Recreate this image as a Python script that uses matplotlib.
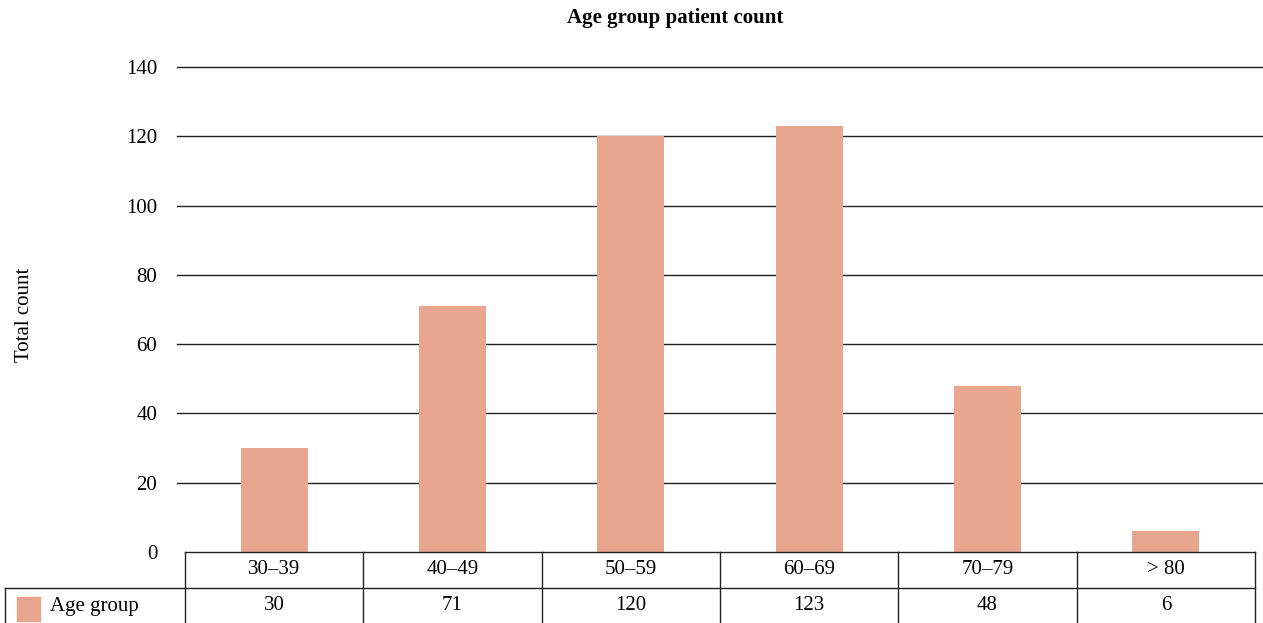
import matplotlib.pyplot as plt
import matplotlib.transforms as mtransforms
from matplotlib.patches import Rectangle

plt.rcParams['font.family'] = ['Liberation Serif', 'DejaVu Serif']

age_groups = ['30\u201339', '40\u201349', '50\u201359', '60\u201369', '70\u201379', '> 80']
counts = [30, 71, 120, 123, 48, 6]
series_name = 'Age group'
bar_color = '#E9A68F'
fs = 15

fig = plt.figure(figsize=(12.63, 6.23), dpi=100)
W, H = 1263, 623
ax = fig.add_axes([185 / W, 1 - 552 / H, (1255 - 185) / W, (552 - 67) / H])

x = range(len(counts))
ax.bar(x, counts, width=0.375, color=bar_color, zorder=2)
ax.set_xlim(-0.5, len(counts) - 0.5)
ax.set_ylim(0, 140)
ax.set_yticks(range(0, 141, 20))
ax.tick_params(axis='y', length=0, pad=20, labelsize=fs)
ax.set_xticks([])
for s in ax.spines.values():
    s.set_visible(False)

# gridlines run a little past both ends of the plot area
for yv in range(20, 141, 20):
    ax.axhline(yv, xmin=-0.0075, xmax=1.0065, color='#222222', lw=1.0,
               clip_on=False, zorder=1)

fig.text(25 / W, 1 - 315 / H, 'Total count', rotation=90, ha='center',
         va='center', fontsize=fs)
fig.text(675 / W, 1 - 18 / H, 'Age group patient count', ha='center',
         va='center', fontsize=fs, fontweight='bold')

# data table under the axis
trans = mtransforms.blended_transform_factory(ax.transData, ax.transAxes)
r1 = -36 / 485
r2 = -72 / 485
lkw = dict(color='#222222', lw=1.0, clip_on=False, transform=trans)
n = len(counts)
ax.plot([-0.5, n - 0.5], [0, 0], **lkw)
ax.plot([-0.5, n - 0.5], [r1, r1], **lkw)
ax.plot([-0.5, n - 0.5], [r2, r2], **lkw)
for i in range(n + 1):
    ax.plot([i - 0.5, i - 0.5], [0, r2], **lkw)
for i, (g, c) in enumerate(zip(age_groups, counts)):
    ax.text(i, r1 / 2, g, ha='center', va='center', fontsize=fs, transform=trans)
    ax.text(i, (r1 + r2) / 2, str(c), ha='center', va='center', fontsize=fs,
            transform=trans)

# row header cell with legend key
fx0 = 5 / W
fx1 = 185 / W
fy1 = 1 - 588 / H
fy0 = 1 - 624 / H
fkw = dict(color='#222222', lw=1.0, transform=fig.transFigure)
fig.add_artist(plt.Line2D([fx0, fx1], [fy1, fy1], **fkw))
fig.add_artist(plt.Line2D([fx0, fx0], [fy0, fy1], **fkw))
fig.add_artist(plt.Line2D([fx0, fx1], [fy0, fy0], **fkw))
fig.add_artist(Rectangle((17 / W, 1 - 621 / H), 23 / W, 24 / H, color=bar_color,
                         transform=fig.transFigure))
fig.text(50 / W, 1 - 607 / H, series_name, ha='left', va='center', fontsize=fs)

fig.savefig('out.png', dpi=100)
